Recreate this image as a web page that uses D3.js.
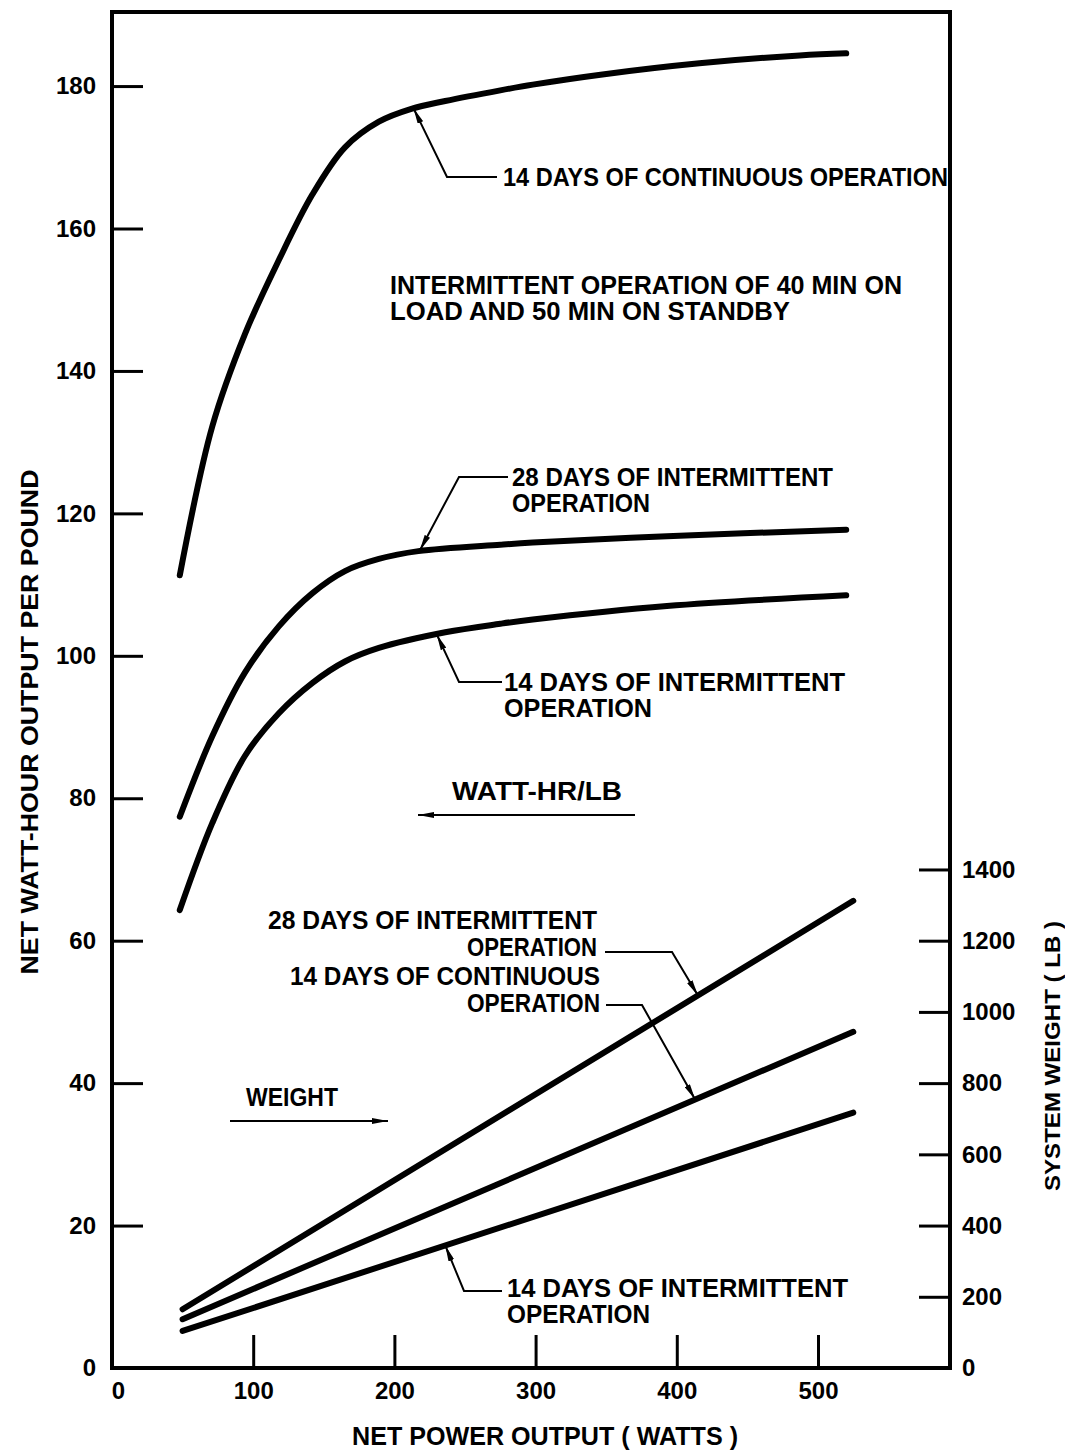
<!DOCTYPE html>
<html>
<head>
<meta charset="utf-8">
<script src="https://cdn.jsdelivr.net/npm/d3@7"></script>
<style>
  body { margin: 0; background: #fff; }
  text { font-family: 'Liberation Sans', Arial, sans-serif; font-weight: bold; fill: #000; }
</style>
</head>
<body>
<svg id="chart" width="1065" height="1452"></svg>
<script>
// --- net watt-hour output per pound (left axis) ---
let contPower = [48, 71, 94, 118, 142, 165, 189, 212, 236, 275, 298, 346, 416, 487, 520]
let contWh    = [111.3, 132.2, 145.1, 155.5, 164.8, 171.4, 175.0, 176.8, 177.9, 179.4, 180.2, 181.6, 183.2, 184.3, 184.6]

let int28Power = [48, 71, 94, 118, 142, 165, 189, 217, 275, 298, 393, 520]
let int28Wh    = [77.4, 88.7, 97.6, 104.1, 108.8, 111.9, 113.6, 114.7, 115.6, 115.9, 116.8, 117.7]

let int14Power = [48, 71, 94, 118, 142, 165, 189, 236, 275, 298, 393, 520]
let int14Wh    = [64.3, 76.5, 85.9, 91.9, 96.2, 99.2, 101.1, 103.3, 104.5, 105.1, 107.0, 108.5]

// --- system weight in lb (right axis) ---
let weightPower = [50, 525]
let weight28    = [165, 1312]
let weightCont  = [137, 944]
let weight14    = [104, 717]

let xTicks  = [0, 100, 200, 300, 400, 500]
let yTicks  = [0, 20, 40, 60, 80, 100, 120, 140, 160, 180]
let yRTicks = [0, 200, 400, 600, 800, 1000, 1200, 1400]

let plotLeft = 112, plotRight = 950, plotTop = 12, plotBottom = 1368
let yMax = 190.4

let x = d3.scaleLinear().domain([0, 593.5]).range([plotLeft, plotRight])
let y = d3.scaleLinear().domain([0, yMax]).range([plotBottom, plotTop])
let yR = d3.scaleLinear().domain([0, yMax * 20]).range([plotBottom, plotTop])

let svg = d3.select('#chart')

svg.append('defs').append('marker')
  .attr('id', 'arrow')
  .attr('viewBox', '0 0 16 6')
  .attr('refX', 16).attr('refY', 3)
  .attr('markerWidth', 16).attr('markerHeight', 6)
  .attr('markerUnits', 'userSpaceOnUse')
  .attr('orient', 'auto')
  .append('path').attr('d', 'M0,0 L16,3 L0,6 Z').attr('fill', '#000')

// frame
svg.append('rect')
  .attr('x', plotLeft).attr('y', plotTop)
  .attr('width', plotRight - plotLeft).attr('height', plotBottom - plotTop)
  .attr('fill', 'none').attr('stroke', '#000').attr('stroke-width', 4)

// axes
let fontSize = 24
let fmt = d3.format('d')
let gy = svg.append('g').attr('transform', `translate(${plotLeft},0)`)
  .call(d3.axisLeft(y).tickValues(yTicks).tickFormat(fmt).tickSizeInner(-31).tickSizeOuter(0).tickPadding(16))
let gx = svg.append('g').attr('transform', `translate(0,${plotBottom})`)
  .call(d3.axisBottom(x).tickValues(xTicks).tickFormat(fmt).tickSizeInner(-33).tickSizeOuter(0).tickPadding(14))
let gr = svg.append('g').attr('transform', `translate(${plotRight},0)`)
  .call(d3.axisRight(yR).tickValues(yRTicks).tickFormat(fmt).tickSizeInner(-31).tickSizeOuter(0).tickPadding(12))

;[gy, gx, gr].forEach(function(g) {
  g.select('.domain').remove()
  g.selectAll('line').attr('stroke', '#000').attr('stroke-width', 3)
  g.selectAll('text').attr('font-size', fontSize).attr('font-family', null)
})
gx.selectAll('text').filter(d => d === 0).attr('dx', 6)

// curves
let line = d3.line().x(d => x(d[0])).y(d => y(d[1])).curve(d3.curveCatmullRom.alpha(0.5))
let lineR = d3.line().x(d => x(d[0])).y(d => yR(d[1]))

let whSeries = [
  d3.zip(contPower, contWh),
  d3.zip(int28Power, int28Wh),
  d3.zip(int14Power, int14Wh)
]
let wtSeries = [
  d3.zip(weightPower, weight28),
  d3.zip(weightPower, weightCont),
  d3.zip(weightPower, weight14)
]

svg.selectAll('.wh').data(whSeries).enter().append('path')
  .attr('class', 'wh')
  .attr('d', line)
  .attr('fill', 'none').attr('stroke', '#000').attr('stroke-width', 6)
  .attr('stroke-linecap', 'round')

svg.selectAll('.wt').data(wtSeries).enter().append('path')
  .attr('class', 'wt')
  .attr('d', lineR)
  .attr('fill', 'none').attr('stroke', '#000').attr('stroke-width', 6)
  .attr('stroke-linecap', 'round')

// annotations: leader from text end via elbow to the curve
let wt28At = d3.scaleLinear().domain(weightPower).range(weight28)
let wtContAt = d3.scaleLinear().domain(weightPower).range(weightCont)
let wt14At = d3.scaleLinear().domain(weightPower).range(weight14)

let leaders = [
  [[497, 177], [447, 177], [x(213.5), y(176.9)]],
  [[508, 477], [459, 477], [x(218), y(114.8)]],
  [[502, 682], [459, 682], [x(230), y(103.0)]],
  [[605, 952], [672, 952], [x(415), yR(wt28At(415))]],
  [[606, 1005], [642, 1005], [x(413), yR(wtContAt(413))]],
  [[502, 1291], [464, 1291], [x(236), yR(wt14At(236))]]
]
svg.selectAll('.leader').data(leaders).enter().append('path')
  .attr('class', 'leader')
  .attr('d', d3.line())
  .attr('fill', 'none').attr('stroke', '#000').attr('stroke-width', 2)
  .attr('marker-end', 'url(#arrow)')

// plain arrows
let arrows = [
  [[635, 815], [418, 815]],
  [[230, 1121], [388, 1121]]
]
svg.selectAll('.arr').data(arrows).enter().append('path')
  .attr('class', 'arr')
  .attr('d', d3.line())
  .attr('fill', 'none').attr('stroke', '#000').attr('stroke-width', 2)
  .attr('marker-end', 'url(#arrow)')

let labels = [
  { t: '14 DAYS OF CONTINUOUS OPERATION', x: 503, y: 186, w: 445 },
  { t: 'INTERMITTENT OPERATION OF 40 MIN ON', x: 390, y: 294, w: 512 },
  { t: 'LOAD AND 50 MIN ON STANDBY', x: 390, y: 320, w: 400 },
  { t: '28 DAYS OF INTERMITTENT', x: 512, y: 486, w: 321 },
  { t: 'OPERATION', x: 512, y: 512, w: 138 },
  { t: '14 DAYS OF INTERMITTENT', x: 504, y: 691, w: 341 },
  { t: 'OPERATION', x: 504, y: 717, w: 148 },
  { t: 'WATT-HR/LB', x: 452, y: 800, w: 170 },
  { t: '28 DAYS OF INTERMITTENT', x: 268, y: 929, w: 329 },
  { t: 'OPERATION', x: 467, y: 956, w: 130 },
  { t: '14  DAYS OF CONTINUOUS', x: 290, y: 985, w: 310 },
  { t: 'OPERATION', x: 467, y: 1012, w: 133 },
  { t: 'WEIGHT', x: 246, y: 1106, w: 92 },
  { t: '14 DAYS OF INTERMITTENT', x: 507, y: 1297, w: 341 },
  { t: 'OPERATION', x: 507, y: 1323, w: 143 },
  { t: 'NET POWER OUTPUT ( WATTS )', x: 352, y: 1445, w: 386 }
]
svg.selectAll('.lbl').data(labels).enter().append('text')
  .attr('class', 'lbl')
  .attr('x', d => d.x).attr('y', d => d.y)
  .attr('font-size', 25)
  .attr('textLength', d => d.w)
  .attr('lengthAdjust', 'spacingAndGlyphs')
  .text(d => d.t)

// rotated axis titles
svg.append('text')
  .attr('transform', 'translate(38,722) rotate(-90)')
  .attr('text-anchor', 'middle')
  .attr('font-size', 23)
  .attr('textLength', 505).attr('lengthAdjust', 'spacingAndGlyphs')
  .text('NET WATT-HOUR OUTPUT PER POUND')

svg.append('text')
  .attr('transform', 'translate(1060,1056) rotate(-90)')
  .attr('text-anchor', 'middle')
  .attr('font-size', 22)
  .attr('textLength', 270).attr('lengthAdjust', 'spacingAndGlyphs')
  .text('SYSTEM WEIGHT ( LB )')
</script>
</body>
</html>
